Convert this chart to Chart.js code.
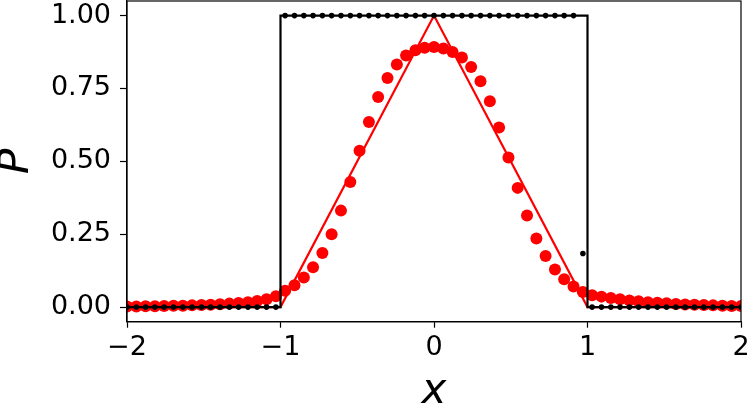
<!DOCTYPE html>
<html>
<head>
<meta charset="utf-8">
<script src="https://cdn.jsdelivr.net/npm/chart.js@4"></script>
<style>
    html, body { margin: 0; padding: 0; background: #fff; }
    canvas { display: block; }
</style>
</head>
<body>
<canvas id="chart" width="748" height="404"></canvas>
<script>
// grid points of the sampled profiles
const xs = [
    -2.000, -1.939, -1.879, -1.818, -1.758, -1.697, -1.636, -1.576, -1.515, -1.455,
    -1.394, -1.333, -1.273, -1.212, -1.152, -1.091, -1.030, -0.970, -0.909, -0.848,
    -0.788, -0.727, -0.667, -0.606, -0.545, -0.485, -0.424, -0.364, -0.303, -0.242,
    -0.182, -0.121, -0.061, 0.000, 0.061, 0.121, 0.182, 0.242, 0.303, 0.364,
    0.424, 0.485, 0.545, 0.606, 0.667, 0.727, 0.788, 0.848, 0.909, 0.970,
    1.030, 1.091, 1.152, 1.212, 1.273, 1.333, 1.394, 1.455, 1.515, 1.576,
    1.636, 1.697, 1.758, 1.818, 1.879, 1.939, 2.000
];

// black dots (box profile)
const boxDots = [
    0, 0, 0, 0, 0, 0, 0, 0, 0, 0, 0, 0, 0, 0, 0, 0, 0,
    1, 1, 1, 1, 1, 1, 1, 1, 1, 1, 1, 1, 1, 1, 1, 1,
    1, 1, 1, 1, 1, 1, 1, 1, 1, 1, 1, 1, 1, 1, 1, 1,
    0.184,
    0, 0, 0, 0, 0, 0, 0, 0, 0, 0, 0, 0, 0, 0, 0, 0, 0
];

// red dots (smoothed triangle)
const triDots = [
    0.002, 0.002, 0.003, 0.003, 0.004, 0.0045, 0.005, 0.006, 0.007, 0.008,
    0.010, 0.012, 0.014, 0.017, 0.021, 0.027, 0.037,
    0.056, 0.075, 0.102, 0.137, 0.186, 0.250, 0.331, 0.429, 0.536, 0.635,
    0.721, 0.786, 0.832, 0.863, 0.881, 0.890, 0.892, 0.887, 0.875, 0.856,
    0.824, 0.775, 0.706, 0.616, 0.513, 0.409, 0.314, 0.235, 0.175, 0.129,
    0.096, 0.071, 0.052, 0.041,
    0.036, 0.031, 0.027, 0.023, 0.020, 0.017, 0.015, 0.013, 0.011, 0.009,
    0.008, 0.007, 0.006, 0.005, 0.004, 0.0035
];

// exact profiles (lines)
const boxLineX = [-2, -1, -1, 1, 1, 2];
const boxLineP = [0, 0, 1, 1, 0, 0];
const triLineX = [-2, -1, 0, 1, 2];
const triLineP = [0, 0, 1, 0, 0];

const xTicks = [-2, -1, 0, 1, 2];
const yTicks = [0, 0.25, 0.5, 0.75, 1];

const toPoints = (xArr, yArr) => xArr.map((x, i) => ({ x: x, y: yArr[i] }));

const tickFont = { family: 'DejaVu Sans', size: 27 };
const titleFont = { family: 'DejaVu Sans', size: 42, style: 'italic', lineHeight: 1 };

// top and right spines
const framePlugin = {
    id: 'frame',
    afterDraw(chart) {
        const a = chart.chartArea;
        const ctx = chart.ctx;
        ctx.save();
        ctx.strokeStyle = '#000';
        ctx.lineWidth = 1.2;
        ctx.strokeRect(a.left, a.top, a.right - a.left, a.bottom - a.top);
        ctx.restore();
    }
};

new Chart(document.getElementById('chart').getContext('2d'), {
    type: 'scatter',
    data: {
        datasets: [
            {
                data: toPoints(xs, boxDots),
                backgroundColor: '#000',
                borderWidth: 0,
                pointRadius: 2.8,
                order: 1,
                clip: 0
            },
            {
                data: toPoints(boxLineX, boxLineP),
                showLine: true,
                borderColor: '#000',
                borderWidth: 2.2,
                pointRadius: 0,
                order: 2,
                clip: 0
            },
            {
                data: toPoints(xs, triDots),
                backgroundColor: '#ff0000',
                borderWidth: 0,
                pointRadius: 6,
                order: 3,
                clip: 0
            },
            {
                data: toPoints(triLineX, triLineP),
                showLine: true,
                borderColor: '#ff0000',
                borderWidth: 2.2,
                pointRadius: 0,
                order: 4,
                clip: 0
            }
        ]
    },
    options: {
        responsive: false,
        animation: false,
        devicePixelRatio: 1,
        layout: { autoPadding: false, padding: { top: 1, right: 7, left: 0, bottom: 0 } },
        plugins: {
            legend: { display: false },
            tooltip: { enabled: false }
        },
        scales: {
            x: {
                type: 'linear',
                min: -2,
                max: 2,
                afterBuildTicks: (scale) => { scale.ticks = xTicks.map(v => ({ value: v })); },
                afterFit: (scale) => {
                    scale.height = 82.3;
                    scale.paddingLeft = 0;
                    scale.paddingRight = 0;
                },
                ticks: {
                    font: tickFont,
                    color: '#000',
                    padding: 4,
                    maxRotation: 0,
                    callback: (v) => v < 0 ? '\u2212' + Math.abs(v) : String(v)
                },
                grid: { drawOnChartArea: false, tickLength: 6, color: '#000', tickWidth: 1.2 },
                border: { color: '#000', width: 1.2 },
                title: { display: true, text: 'x', font: titleFont, color: '#000', padding: { top: 0, bottom: -9 } }
            },
            y: {
                type: 'linear',
                min: -0.05,
                max: 1.05,
                afterBuildTicks: (scale) => { scale.ticks = yTicks.map(v => ({ value: v })); },
                afterFit: (scale) => {
                    scale.width = 127;
                    scale.paddingTop = 0;
                    scale.paddingBottom = 0;
                },
                ticks: {
                    font: tickFont,
                    color: '#000',
                    padding: 9,
                    callback: (v) => v.toFixed(2)
                },
                grid: { drawOnChartArea: false, tickLength: 7, color: '#000', tickWidth: 1.2 },
                border: { color: '#000', width: 1.2 },
                title: { display: true, text: 'P', font: titleFont, color: '#000', padding: { top: -3.5, bottom: 0 } }
            }
        }
    },
    plugins: [framePlugin]
});
</script>
</body>
</html>
